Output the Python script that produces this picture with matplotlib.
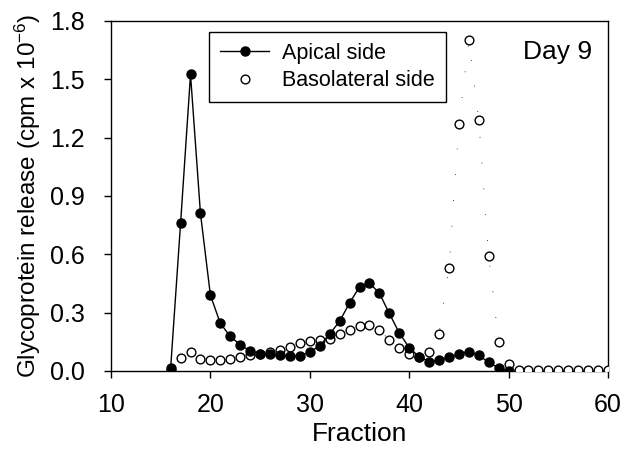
import matplotlib
matplotlib.use("Agg")
import matplotlib.pyplot as plt
from matplotlib.ticker import FormatStrFormatter

plt.rcParams['font.family'] = ['Liberation Sans', 'DejaVu Sans']
plt.rcParams['mathtext.fontset'] = 'custom'
plt.rcParams['mathtext.rm'] = 'Liberation Sans'
plt.rcParams['mathtext.it'] = 'Liberation Sans'

# Data
apical_x = list(range(16, 51))
apical_y = [0.015, 0.76, 1.525, 0.81, 0.39, 0.245, 0.178, 0.135, 0.103, 0.09,
            0.085, 0.08, 0.078, 0.077, 0.099, 0.128, 0.19, 0.256, 0.35, 0.432,
            0.453, 0.40, 0.296, 0.196, 0.12, 0.073, 0.048, 0.055, 0.07, 0.088,
            0.10, 0.08, 0.045, 0.015, 0.0]
baso_x = list(range(16, 61))
baso_y = [0.005, 0.068, 0.097, 0.06, 0.055, 0.055, 0.06, 0.073, 0.08, 0.09,
          0.10, 0.11, 0.125, 0.145, 0.154, 0.159, 0.167, 0.19, 0.21, 0.232,
          0.236, 0.21, 0.16, 0.116, 0.085, 0.073, 0.099, 0.19, 0.53, 1.27,
          1.70, 1.29, 0.59, 0.15, 0.034, 0.005, 0.005, 0.005, 0.005, 0.005,
          0.005, 0.005, 0.005, 0.005, 0.005]
x_ticks = [10, 20, 30, 40, 50, 60]
y_ticks = [0.0, 0.3, 0.6, 0.9, 1.2, 1.5, 1.8]
labels = ["Apical side", "Basolateral side"]

W, H = 627, 457
fig = plt.figure(figsize=(W / 100, H / 100), dpi=100)
ax = fig.add_axes([111 / W, 1 - 371 / H, (608 - 111) / W, (371 - 21) / H])

# Basolateral: sparse dotted line plus open circles
ax.plot(baso_x, baso_y, color='black', lw=0.6, linestyle=(0, (1, 30)), zorder=2)
ax.plot(baso_x, baso_y, linestyle='none', marker='o', markersize=6.3,
        markerfacecolor='white', markeredgecolor='black', markeredgewidth=1.0,
        zorder=3)
bas_handle, = ax.plot([], [], linestyle='none', marker='o', markersize=6.3,
                      markerfacecolor='white', markeredgecolor='black',
                      markeredgewidth=1.0)
ap_handle, = ax.plot(apical_x, apical_y, color='black', lw=1.0, marker='o',
                     markersize=6.5, markerfacecolor='black',
                     markeredgecolor='black', zorder=4)

ax.set_xlim(10, 60)
ax.set_ylim(0, 1.8)
ax.set_xticks(x_ticks)
ax.set_yticks(y_ticks)
ax.yaxis.set_major_formatter(FormatStrFormatter('%.1f'))
ax.tick_params(direction='out', length=5, width=1, labelsize=18)
ax.tick_params(axis='x', pad=11)
ax.tick_params(axis='y', pad=14)
for s in ax.spines.values():
    s.set_linewidth(1.0)

ax.set_xlabel("Fraction", fontsize=19)
ax.xaxis.set_label_coords(0.5, (371 - 422) / 350)
ax.set_ylabel("Glycoprotein release (cpm x 10$^{\\mathregular{-6}}$)", fontsize=17.5)
ax.yaxis.set_label_coords((28 - 111) / 497, 0.5)
ax.yaxis.label.set_verticalalignment('center')

ax.text(592 / W, 1 - 40 / H, "Day 9", transform=fig.transFigure,
        ha='right', va='top', fontsize=19)

leg = ax.legend([ap_handle, bas_handle], labels,
                loc='upper left', bbox_to_anchor=(209 / W, 1 - 32 / H),
                bbox_transform=fig.transFigure, fontsize=15.5,
                frameon=True, fancybox=False, edgecolor='black', framealpha=1,
                handlelength=2.3, handletextpad=0.6, borderpad=0.5,
                labelspacing=0.3, borderaxespad=0)
leg.get_frame().set_linewidth(1.0)

fig.savefig("out.png", dpi=100)
